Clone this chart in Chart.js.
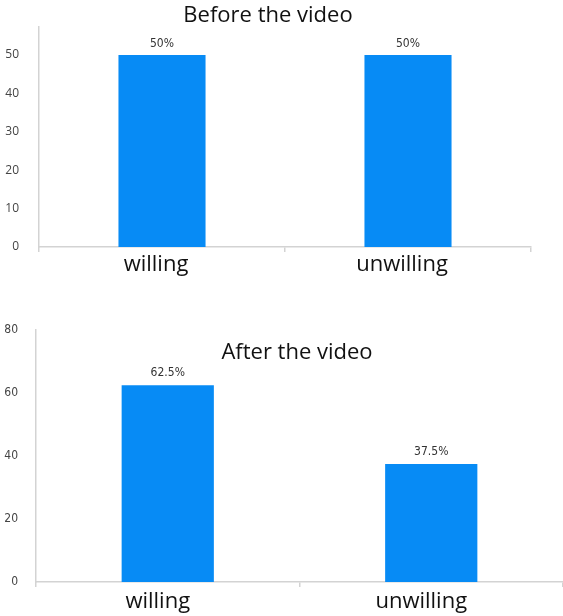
<!DOCTYPE html>
<html>
<head>
<meta charset="utf-8">
<script src="https://cdn.jsdelivr.net/npm/chart.js@4.4.1/dist/chart.umd.min.js"></script>
<style>
  html, body { margin: 0; padding: 0; background: #fff; }
  .wrap { position: absolute; left: 0; width: 563px; }
  #before-wrap { top: 0; height: 290px; }
  #after-wrap { top: 290px; height: 326px; }
</style>
</head>
<body>
<div class="wrap" id="before-wrap"><canvas id="before-chart" width="563" height="290"></canvas></div>
<div class="wrap" id="after-wrap"><canvas id="after-chart" width="563" height="326"></canvas></div>
<script>
// survey answers
const categories = ['willing', 'unwilling'];
const beforeValues = [50, 50];
const afterValues = [62.5, 37.5];
const beforeTitle = 'Before the video';
const afterTitle = 'After the video';

const BAR_COLOR = '#078bf5';
const AXIS_COLOR = '#d3d3d3';
const LABEL_FONT = '"Open Sans", "Noto Sans", sans-serif';
const NARROW_FONT = '"Liberation Sans Narrow", "Arial Narrow", "DejaVu Sans Condensed", sans-serif';

// value labels above each bar + a free-floating title
const barLabels = {
    id: 'barLabels',
    afterDatasetsDraw(chart, args, opts) {
        const ctx = chart.ctx;
        const meta = chart.getDatasetMeta(0);
        const data = chart.data.datasets[0].data;
        ctx.save();
        ctx.fillStyle = '#333';
        ctx.font = opts.font;
        ctx.textAlign = 'center';
        ctx.textBaseline = 'bottom';
        meta.data.forEach((bar, i) => {
            ctx.fillText(data[i] + '%', bar.x, bar.y - opts.gap);
        });
        ctx.fillStyle = '#111';
        ctx.font = '22px ' + LABEL_FONT;
        ctx.textBaseline = 'middle';
        ctx.fillText(opts.title, opts.titleX, opts.titleY);
        ctx.restore();
    }
};

function makeChart(id, values, cfg) {
    return new Chart(document.getElementById(id).getContext('2d'), {
        type: 'bar',
        data: {
            labels: categories,
            datasets: [{
                data: values,
                backgroundColor: BAR_COLOR,
                barPercentage: cfg.barPct,
                categoryPercentage: 1
            }]
        },
        options: {
            responsive: false,
            animation: false,
            layout: { padding: cfg.padding },
            plugins: {
                legend: { display: false },
                tooltip: { enabled: false },
                barLabels: {
                    font: cfg.valueFont,
                    gap: cfg.gap,
                    title: cfg.title,
                    titleX: cfg.titleX,
                    titleY: cfg.titleY
                }
            },
            scales: {
                x: {
                    grid: { display: true, drawOnChartArea: false, tickLength: 5, color: AXIS_COLOR, lineWidth: 1.5 },
                    border: { color: AXIS_COLOR, width: 1.5 },
                    ticks: { color: '#111', font: { family: LABEL_FONT, size: 22 }, padding: cfg.xPad, labelOffset: cfg.labelOffset },
                    afterFit: s => { s.height = cfg.xHeight; }
                },
                y: {
                    min: 0,
                    max: cfg.max,
                    grid: { display: false },
                    border: { color: AXIS_COLOR, width: 1.5 },
                    ticks: { stepSize: cfg.step, color: '#444', font: cfg.yFont, padding: cfg.yPad },
                    afterBuildTicks: s => { s.ticks = s.ticks.filter(t => t.value % cfg.step === 0); },
                    afterFit: s => { s.width = cfg.yWidth; }
                }
            }
        },
        plugins: [barLabels]
    });
}

makeChart('before-chart', beforeValues, {
    title: beforeTitle, titleX: 268, titleY: 16,
    max: 57.3, step: 10,
    padding: { top: 27, right: 32, bottom: 0, left: 0 },
    yWidth: 39, xHeight: 43, yPad: 12, xPad: 0, labelOffset: -6,
    barPct: 0.354, gap: 5,
    valueFont: '12px ' + NARROW_FONT,
    yFont: { family: '"Open Sans", sans-serif', size: 12 }
});

makeChart('after-chart', afterValues, {
    title: afterTitle, titleX: 297, titleY: 63,
    max: 80, step: 20,
    padding: { top: 40, right: 0, bottom: 0, left: 0 },
    yWidth: 36, xHeight: 34, yPad: 10, xPad: 2, labelOffset: -10,
    barPct: 0.35, gap: 6,
    valueFont: '12px ' + NARROW_FONT,
    yFont: { family: NARROW_FONT, size: 12 }
});
</script>
</body>
</html>
